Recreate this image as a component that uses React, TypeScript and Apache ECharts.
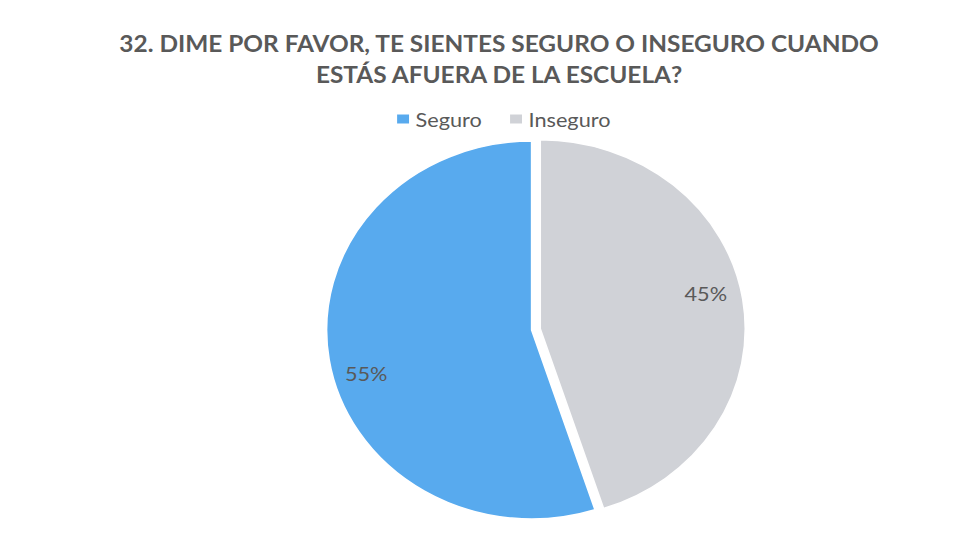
import React, { useEffect, useRef } from "react";
import * as echarts from "echarts";

const titleLines = [
  "32. DIME POR FAVOR, TE SIENTES SEGURO O INSEGURO CUANDO",
  "ESTÁS AFUERA DE LA ESCUELA?",
];
const categories = ["Seguro", "Inseguro"];
const values = [55, 45];
const colors = ["#58aaee", "#d0d2d7"];
const explodedCategory = "Inseguro";

// the scanned original is stretched horizontally
const STRETCH = 1.085;
const WIDTH = 976;
const HEIGHT = 552;

export default function App() {
  const ref = useRef<HTMLDivElement>(null);
  useEffect(() => {
    if (!ref.current) return;
    const chart = echarts.init(ref.current, undefined, { renderer: "svg" });
    const font = "Lato, 'Open Sans', sans-serif";
    const labelOffsets: Record<string, number[]> = {
      Seguro: [7, 18],
      Inseguro: [1, -12],
    };
    chart.setOption({
      animation: false,
      backgroundColor: "#ffffff",
      title: {
        text: titleLines.join("\n"),
        left: 455,
        textAlign: "center",
        top: 23,
        textStyle: {
          fontFamily: font,
          fontSize: 22.5,
          fontWeight: "bold",
          color: "#595959",
          lineHeight: 31,
        },
      },
      legend: {
        data: categories,
        top: 104,
        left: 359,
        itemWidth: 13,
        itemHeight: 11,
        itemGap: 24,
        icon: "rect",
        textStyle: { fontFamily: font, fontSize: 20, color: "#595959" },
        selectedMode: false,
      },
      series: [
        {
          type: "pie",
          z: 2,
          center: [490, 330],
          radius: 189,
          startAngle: 90,
          clockwise: false,
          selectedMode: "single",
          selectedOffset: 8,
          silent: true,
          itemStyle: { borderColor: "#ffffff", borderWidth: 1.5 },
          label: { show: false },
          labelLine: { show: false },
          data: categories.map((name, i) => ({
            name,
            value: values[i],
            selected: name === explodedCategory,
            itemStyle: { color: colors[i] },
          })),
        },
        {
          type: "pie",
          z: 5,
          center: [490, 330],
          radius: [128, 189],
          startAngle: 90,
          clockwise: false,
          silent: true,
          selectedMode: false,
          itemStyle: { color: "rgba(0,0,0,0)" },
          label: {
            show: true,
            position: "inside",
            formatter: "{d}%",
            fontFamily: font,
            fontSize: 20,
            color: "#595959",
          },
          labelLine: { show: false },
          data: categories.map((name, i) => ({
            name,
            value: values[i],
            itemStyle: { color: "rgba(0,0,0,0)" },
            label: { offset: labelOffsets[name] },
          })),
        },
      ],
    });
    return () => chart.dispose();
  }, []);
  return (
    <div
      ref={ref}
      style={{
        position: "fixed",
        left: 0,
        top: 0,
        width: WIDTH / STRETCH,
        height: HEIGHT,
        transform: `scaleX(${STRETCH})`,
        transformOrigin: "0 0",
      }}
    />
  );
}
